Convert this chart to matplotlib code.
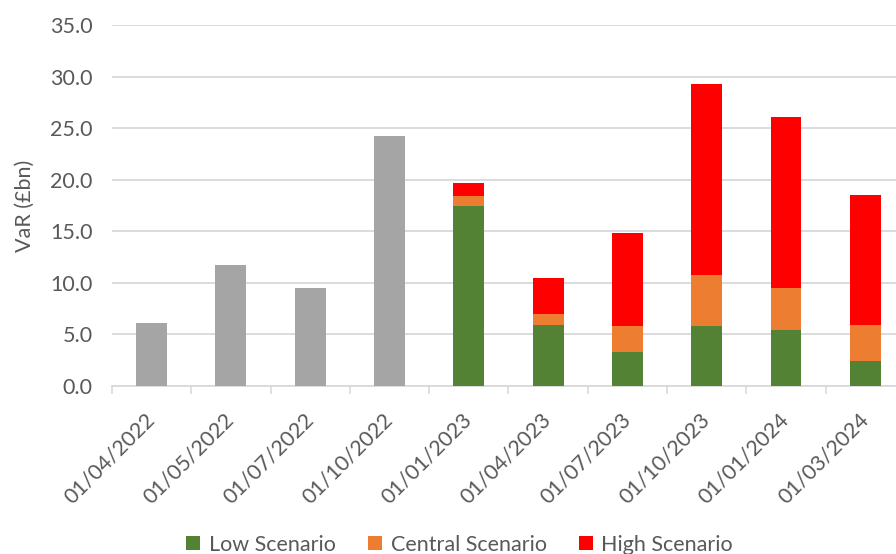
import matplotlib
matplotlib.use('Agg')
import matplotlib.pyplot as plt
import numpy as np

dates = ['01/04/2022', '01/05/2022', '01/07/2022', '01/10/2022', '01/01/2023',
         '01/04/2023', '01/07/2023', '01/10/2023', '01/01/2024', '01/03/2024']

# actual VaR for the first four dates
actual = [6.1, 11.7, 9.5, 24.2]

# scenario segments for the projected dates (stacked)
low = [17.5, 5.9, 3.3, 5.8, 5.4, 2.4]
central = [0.9, 1.1, 2.5, 5.0, 4.1, 3.5]
high = [1.3, 3.5, 9.0, 18.5, 16.6, 12.6]

plt.rcParams['font.family'] = ['Lato', 'DejaVu Sans']
fs = 15.5

fig = plt.figure(figsize=(8.96, 5.54), dpi=100)
ax = fig.add_axes([0.125, 0.3032, 0.885, 0.6517])

width = 0.39
x_act = np.arange(len(actual))
x_sc = np.arange(len(actual), len(dates))
low = np.array(low)
central = np.array(central)
high = np.array(high)

ax.bar(x_act, actual, width, color='#A5A5A5', zorder=3)
ax.bar(x_sc, low, width, color='#548235', label='Low Scenario', zorder=3)
ax.bar(x_sc, central, width, bottom=low, color='#ED7D31', label='Central Scenario', zorder=3)
ax.bar(x_sc, high, width, bottom=low + central, color='#FF0000', label='High Scenario', zorder=3)

ax.set_xlim(-0.5, len(dates) - 0.5)
ax.set_ylim(0, 35)
ax.set_yticks(np.arange(0, 35.1, 5))
ax.set_yticklabels(['%.1f' % v for v in np.arange(0, 35.1, 5)])
ax.yaxis.grid(True, color='#D9D9D9', linewidth=1.3, zorder=0)

ax.set_xticks(np.arange(len(dates)))
ax.set_xticklabels(dates, rotation=45, ha='right', va='center', rotation_mode='anchor')
ax.set_xticks(np.arange(-0.5, len(dates)), minor=True)
ax.tick_params(axis='x', which='major', length=0, pad=22, labelsize=fs, labelcolor='#595959')
ax.tick_params(axis='x', which='minor', length=6, width=1.2, color='#D9D9D9')
ax.tick_params(axis='y', length=0, pad=14, labelsize=fs, labelcolor='#595959')

for s in ['top', 'right', 'left']:
    ax.spines[s].set_visible(False)
ax.spines['bottom'].set_color('#D9D9D9')
ax.spines['bottom'].set_linewidth(1.3)

ax.set_ylabel('VaR (£bn)', fontsize=fs, color='#595959')
ax.yaxis.set_label_coords(-0.097, 0.5)

fig.legend(loc='center', bbox_to_anchor=(0.513, 0.017), ncol=3, frameon=False,
           fontsize=fs, labelcolor='#595959', handlelength=0.65, handleheight=0.65,
           handletextpad=0.4, columnspacing=1.5)

fig.savefig('out.png', dpi=100)
